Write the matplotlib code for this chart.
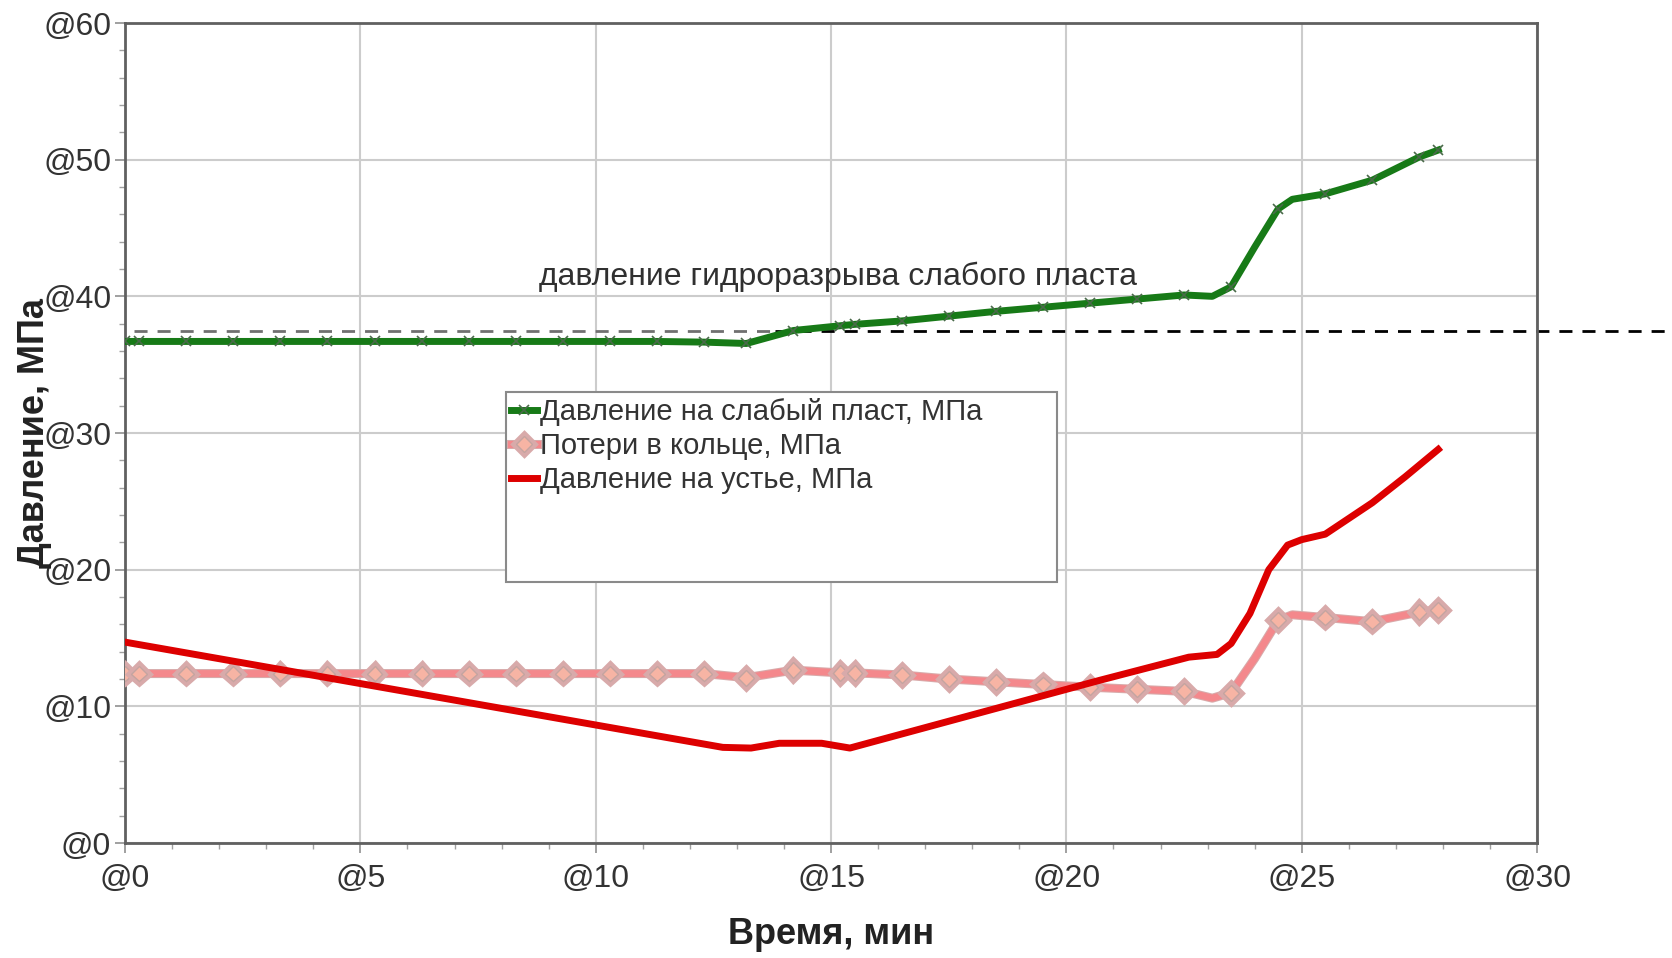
import matplotlib
matplotlib.use("Agg")
import matplotlib.pyplot as plt
import matplotlib.patheffects as pe
from matplotlib.patches import Rectangle
from matplotlib.ticker import MultipleLocator, FuncFormatter

plt.rcParams['font.family'] = ['Liberation Sans', 'DejaVu Sans']

# время, мин (точки рядов)
t_pts = [0, 0.3, 1.3, 2.3, 3.3, 4.3, 5.3, 6.3, 7.3, 8.3, 9.3, 10.3, 11.3, 12.3,
         13.2, 14.2, 15.2, 15.5, 16.5, 17.5, 18.5, 19.5, 20.5, 21.5, 22.5,
         23.1, 23.5, 24.0, 24.5, 24.8, 25.5, 26.5, 27.5, 27.9]
# индексы точек с маркерами
mark_idx = [i for i in range(len(t_pts)) if i not in (25, 27, 29)]

p_weak = [36.7, 36.7, 36.7, 36.7, 36.7, 36.7, 36.7, 36.7, 36.7, 36.7, 36.7, 36.7, 36.7, 36.65,
          36.55, 37.5, 37.85, 37.95, 38.2, 38.55, 38.9, 39.2, 39.5, 39.8, 40.1,
          40.0, 40.7, 43.6, 46.4, 47.1, 47.5, 48.5, 50.2, 50.7]

p_ring = [12.4, 12.4, 12.4, 12.4, 12.4, 12.4, 12.4, 12.4, 12.4, 12.4, 12.4, 12.4, 12.4, 12.4,
          12.1, 12.65, 12.45, 12.45, 12.3, 12.0, 11.8, 11.6, 11.4, 11.25, 11.1,
          10.6, 11.0, 13.5, 16.3, 16.7, 16.5, 16.2, 16.9, 17.05]

t_head = [0, 12.7, 13.3, 13.9, 14.8, 15.4, 20.7, 22.6, 23.2, 23.5, 23.9, 24.3, 24.7, 25.0, 25.5,
          26.5, 27.2, 27.9]
p_head = [14.7, 7.0, 6.95, 7.3, 7.3, 6.95, 11.9, 13.6, 13.8, 14.6, 16.8, 20.0, 21.8, 22.2, 22.6,
          24.9, 26.8, 28.8]

frac_level = 37.5
frac_t_grey = [0.2, 13.8]
frac_t_black = [13.8, 32.9]

labels = ['Давление на слабый пласт, МПа', 'Потери в кольце, МПа', 'Давление на устье, МПа']

fig = plt.figure(figsize=(16.72, 9.58), dpi=100)
ax = fig.add_axes([0.0748, 0.12, 0.8445, 0.856])

ax.plot(frac_t_grey, [frac_level] * 2, color='#707070', lw=2, dashes=(4.7, 3.6), zorder=2)
ax.plot(frac_t_black, [frac_level] * 2, color='black', lw=2, dashes=(4.7, 3.6), zorder=2, clip_on=False)

ax.plot(t_pts, p_weak, color='#177a17', lw=5, marker='x', ms=7, mew=1.2, mec='#4a6a4a',
        markevery=mark_idx, label=labels[0], zorder=4)
ax.plot(t_pts, p_ring, color='#f4888c', lw=5, marker='D', ms=8, mfc='#f7b4a4', mec='#c4a4a0',
        mew=1.0, markevery=mark_idx, label=labels[1], zorder=3,
        path_effects=[pe.withStroke(linewidth=6.5, foreground='#d8aaaa')])
ax.plot(t_head, p_head, color='#dd0000', lw=5, label=labels[2], zorder=3)

ax.text(15.15, 41.4, 'давление гидроразрыва слабого пласта', fontsize=23, color='#303030',
        ha='center', va='center')

ax.set_xlim(0, 30)
ax.set_ylim(0, 60)
ax.xaxis.set_major_locator(MultipleLocator(5))
ax.xaxis.set_minor_locator(MultipleLocator(1))
ax.yaxis.set_major_locator(MultipleLocator(10))
ax.yaxis.set_minor_locator(MultipleLocator(2))
fmt = FuncFormatter(lambda v, pos: '@%g' % v)
ax.xaxis.set_major_formatter(fmt)
ax.yaxis.set_major_formatter(fmt)
ax.tick_params(which='major', length=7, width=1.2, color='#909090', labelsize=23, labelcolor='#333333')
ax.tick_params(which='minor', length=4, width=1, color='#a0a0a0')
ax.tick_params(axis='x', which='major', pad=8)
ax.tick_params(axis='y', which='major', pad=3)
ax.grid(True, which='major', color='#cccccc', lw=1.5)
ax.set_axisbelow(True)
for s in ax.spines.values():
    s.set_color('#606060')
    s.set_linewidth(2)

ax.set_xlabel('Время, мин', fontsize=26, fontweight='bold', color='#222222')
ax.set_ylabel('Давление, МПа', fontsize=26, fontweight='bold', color='#222222')
ax.xaxis.set_label_coords(0.5, -0.09)
ax.yaxis.set_label_coords(-0.052, 0.5)

# рамка легенды больше её содержимого
ax.add_patch(Rectangle((0.27, 0.318), 0.39, 0.232, transform=ax.transAxes, facecolor='white',
                       edgecolor='#8a8a8a', lw=1.5, zorder=5))
leg = ax.legend(loc='upper left', bbox_to_anchor=(0.271, 0.546), frameon=False, fontsize=21,
                handlelength=0.9, handletextpad=0.1, labelspacing=0.2, borderpad=0.1,
                borderaxespad=0)
leg.set_zorder(6)
for txt in leg.get_texts():
    txt.set_color('#333333')

fig.savefig('out.png', dpi=100)
